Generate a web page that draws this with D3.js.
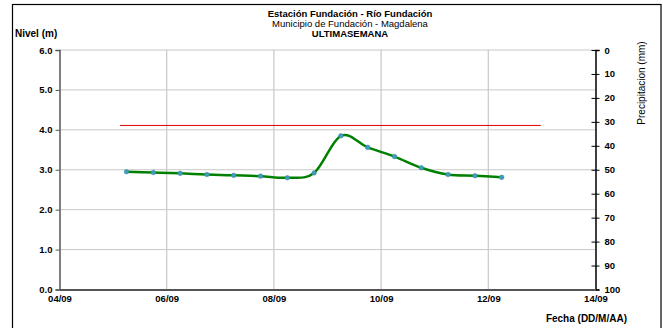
<!DOCTYPE html>
<html><head><meta charset="utf-8">
<script src="https://cdn.jsdelivr.net/npm/d3@7"></script>
<style>
html,body{margin:0;padding:0;background:#fff;}
svg text{font-family:"Liberation Sans",Arial,sans-serif;}
</style></head>
<body><svg id="c" width="663" height="328"></svg>
<script>
// ---- data ----
const titleLines = ["Estación Fundación - Río Fundación", "Municipio de Fundación - Magdalena", "ULTIMASEMANA"];
const dayTicks = [4, 6, 8, 10, 12, 14];
const dayTickLabels = ["04/09", "06/09", "08/09", "10/09", "12/09", "14/09"];
const levelTicks = [0, 1, 2, 3, 4, 5, 6];
const rainTicks = [0, 10, 20, 30, 40, 50, 60, 70, 80, 90, 100];
// observation times (day of September, fractional)
const obsDays = [5.25, 5.75, 6.25, 6.75, 7.25, 7.75, 8.25, 8.75, 9.25, 9.75, 10.25, 10.75, 11.25, 11.75, 12.25];
const levels  = [2.95, 2.93, 2.91, 2.88, 2.86, 2.84, 2.80, 2.92, 3.85, 3.56, 3.33, 3.05, 2.88, 2.85, 2.81];
const alertDays = [5.13, 12.98];
const alertLevel = [4.11, 4.11];

// ---- layout ----
const svg = d3.select("#c");
const L = 59.5, R = 595.5, T = 50, B = 289.5;
const x = d3.scaleLinear().domain([4, 14]).range([L, R]);
const y = d3.scaleLinear().domain([0, 6]).range([B, T]);
const y2 = d3.scaleLinear().domain([0, 100]).range([T, B]);

// outer frame
svg.append("rect").attr("x", 12.5).attr("y", 4.5).attr("width", 648.5).attr("height", 340)
  .attr("fill", "none").attr("stroke", "#000").attr("stroke-width", 1.2);

// grid
svg.append("g").selectAll("line").data(levelTicks.filter(d => d > 0)).join("line")
  .attr("x1", L).attr("x2", R).attr("y1", d => y(d)).attr("y2", d => y(d))
  .attr("stroke", "#c8c8c8").attr("stroke-width", 1);
svg.append("g").selectAll("line").data(dayTicks.slice(1, -1)).join("line")
  .attr("x1", d => x(d)).attr("x2", d => x(d)).attr("y1", T).attr("y2", B)
  .attr("stroke", "#c8c8c8").attr("stroke-width", 1.2);

// left axis
const ga = svg.append("g").attr("transform", `translate(${L},0)`)
  .call(d3.axisLeft(y).tickValues(levelTicks).tickFormat(d3.format(".1f")).tickSize(4).tickPadding(3));
ga.select(".domain").attr("stroke", "#555").attr("stroke-width", 1.5);
ga.selectAll(".tick line").attr("stroke", "#555");
ga.selectAll("text").attr("font-size", 9.5).attr("font-weight", "bold").attr("fill", "#000");

// right axis
const gr = svg.append("g").attr("transform", `translate(${R},0)`)
  .call(d3.axisRight(y2).tickValues(rainTicks).tickSize(4).tickPadding(5));
gr.select(".domain").attr("stroke", "#000").attr("stroke-width", 1.5);
gr.selectAll(".tick line").attr("x1", -4).attr("stroke", "#000");
gr.selectAll("text").attr("font-size", 9.5).attr("font-weight", "bold").attr("fill", "#000");

// bottom axis
const gb = svg.append("g").attr("transform", `translate(0,${B})`)
  .call(d3.axisBottom(x).tickValues(dayTicks).tickFormat((d, i) => dayTickLabels[i]).tickSize(0).tickPadding(6));
gb.select(".domain").attr("stroke", "#555").attr("stroke-width", 2);
gb.selectAll("text").attr("font-size", 9.5).attr("font-weight", "bold").attr("fill", "#000");

// alert line
svg.append("path").datum(alertDays.map((d, i) => [d, alertLevel[i]]))
  .attr("d", d3.line().x(d => x(d[0])).y(d => y(d[1])))
  .attr("fill", "none").attr("stroke", "#e00000").attr("stroke-width", 1);

// level line
const pts = obsDays.map((d, i) => [d, levels[i]]);
svg.append("path").datum(pts)
  .attr("d", d3.line().x(d => x(d[0])).y(d => y(d[1])).curve(d3.curveCardinal.tension(0)))
  .attr("fill", "none").attr("stroke", "#008000").attr("stroke-width", 2.5);
svg.append("g").selectAll("circle").data(pts).join("circle")
  .attr("cx", d => x(d[0])).attr("cy", d => y(d[1])).attr("r", 2.3)
  .attr("fill", "#3f9bbf").attr("stroke", "#2e8f8f").attr("stroke-width", 0.5);

// titles
const tt = svg.append("g").attr("text-anchor", "middle");
tt.append("text").attr("x", 350).attr("y", 17).attr("font-size", 9.5).attr("font-weight", "bold").text(titleLines[0]);
tt.append("text").attr("x", 350).attr("y", 27).attr("font-size", 9.5).text(titleLines[1]);
tt.append("text").attr("x", 350).attr("y", 37).attr("font-size", 9.5).attr("font-weight", "bold").text(titleLines[2]);

svg.append("text").attr("x", 15).attr("y", 37).attr("font-size", 10).attr("font-weight", "bold").text("Nivel (m)");
svg.append("text").attr("x", 627).attr("y", 322).attr("text-anchor", "end").attr("font-size", 10).attr("font-weight", "bold").text("Fecha (DD/M/AA)");
svg.append("text").attr("transform", "translate(645,83) rotate(-90)").attr("text-anchor", "middle")
  .attr("font-size", 10).text("Precipitacion (mm)");
</script></body></html>
